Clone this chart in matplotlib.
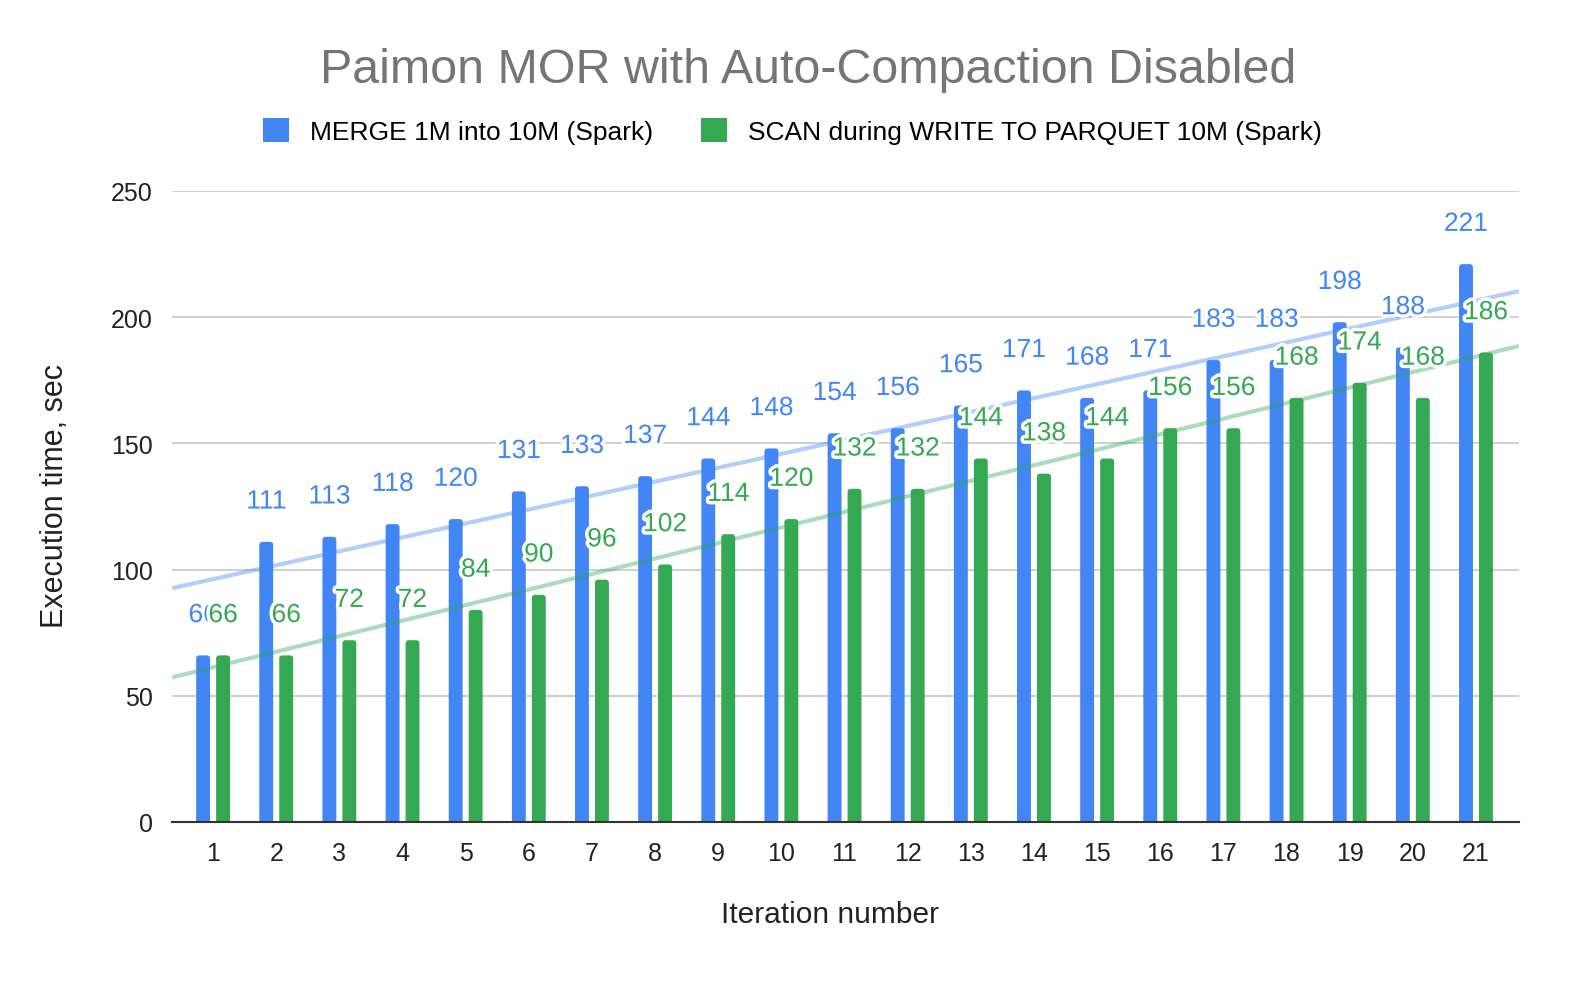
import numpy as np
import matplotlib
matplotlib.use("Agg")
import matplotlib.pyplot as plt
import matplotlib.patheffects as pe
from matplotlib.patches import FancyBboxPatch, Patch

plt.rcParams['font.family'] = ['Liberation Sans', 'DejaVu Sans']

iterations = list(range(1, 22))
merge_vals = [66, 111, 113, 118, 120, 131, 133, 137, 144, 148, 154, 156, 165, 171, 168, 171, 183, 183, 198, 188, 221]
scan_vals = [66, 66, 72, 72, 84, 90, 96, 102, 114, 120, 132, 132, 144, 138, 144, 156, 156, 168, 174, 168, 186]
series_names = ["MERGE 1M into 10M (Spark)", "SCAN during WRITE TO PARQUET 10M (Spark)"]
y_ticks = [0, 50, 100, 150, 200, 250]

BLUE = "#4285F4"
GREEN = "#34A853"

W, H = 1593, 987
fig = plt.figure(figsize=(W / 100, H / 100), dpi=100)
ax_rect = [0.108, 0.1662, 0.8455, 0.6393]
ax = fig.add_axes(ax_rect)

x = np.array(iterations, dtype=float)
w = 0.22
off = 0.158
xlim = (0.35, 21.68)
ylim = (0, 250)

b1 = ax.bar(x - off, merge_vals, width=w, color=BLUE, zorder=2)
b2 = ax.bar(x + off, scan_vals, width=w, color=GREEN, zorder=2)

# round the bar tops slightly
px_x = (xlim[1] - xlim[0]) / (ax_rect[2] * W)
px_y = (ylim[1] - ylim[0]) / (ax_rect[3] * H)
for cont in (b1, b2):
    for r in cont.patches:
        r.set_visible(False)
        fb = FancyBboxPatch((r.get_x(), r.get_y() - 10), r.get_width(), r.get_height() + 10,
                            boxstyle="round,pad=0,rounding_size=%f" % (3 * px_x),
                            mutation_aspect=px_y / px_x, facecolor=r.get_facecolor(),
                            edgecolor="none", zorder=2)
        ax.add_patch(fb)

xs = np.array(xlim)
for vals, col in ((merge_vals, BLUE), (scan_vals, GREEN)):
    k, c = np.polyfit(x, vals, 1)
    ax.plot(xs, k * xs + c, color=col, alpha=0.4, lw=3, zorder=3, solid_capstyle='butt')

stroke = [pe.withStroke(linewidth=5, foreground="white")]
for xi, v in zip(x - off, merge_vals):
    ax.annotate(str(v), (xi, v), xytext=(0, 29), textcoords="offset points",
                ha="center", va="center", fontsize=19, color=BLUE, zorder=5,
                path_effects=stroke)
for xi, v in zip(x + off, scan_vals):
    ax.annotate(str(v), (xi, v), xytext=(0, 29), textcoords="offset points",
                ha="center", va="center", fontsize=19, color=GREEN, zorder=6,
                path_effects=stroke)

ax.set_xlim(*xlim)
ax.set_ylim(*ylim)
ax.set_yticks(y_ticks)
ax.set_xticks(iterations)
ax.set_xticklabels([str(i) for i in iterations])
ax.tick_params(axis='both', length=0, labelsize=18, colors="#222222")
ax.tick_params(axis='y', pad=14)
ax.tick_params(axis='x', pad=14)
ax.grid(axis='y', color="#cccccc", lw=1.3, zorder=0)
for s in ("top", "right", "left"):
    ax.spines[s].set_visible(False)
ax.spines["bottom"].set_color("#333333")
ax.spines["bottom"].set_linewidth(1.5)
ax.spines["bottom"].set_zorder(4)

fig.text(830 / W, 1 - 915 / H, "Iteration number", ha="center", va="center",
         fontsize=21.5, color="#222222")
fig.text(55 / W, 1 - 496 / H, "Execution time, sec", ha="center", va="center",
         rotation=90, fontsize=22, color="#222222")

fig.text(0.507, 0.929, "Paimon MOR with Auto-Compaction Disabled", ha="center", va="center",
         fontsize=34.8, color="#757575")

handles = [Patch(facecolor=BLUE, edgecolor="none"), Patch(facecolor=GREEN, edgecolor="none")]
fig.legend(handles=handles, labels=series_names, loc="center", bbox_to_anchor=(0.4975, 0.866),
           ncol=2, frameon=False, fontsize=19, handlelength=1.0, handleheight=1.0,
           handletextpad=0.8, columnspacing=1.8)

fig.savefig("out.png", dpi=100, facecolor="white")
